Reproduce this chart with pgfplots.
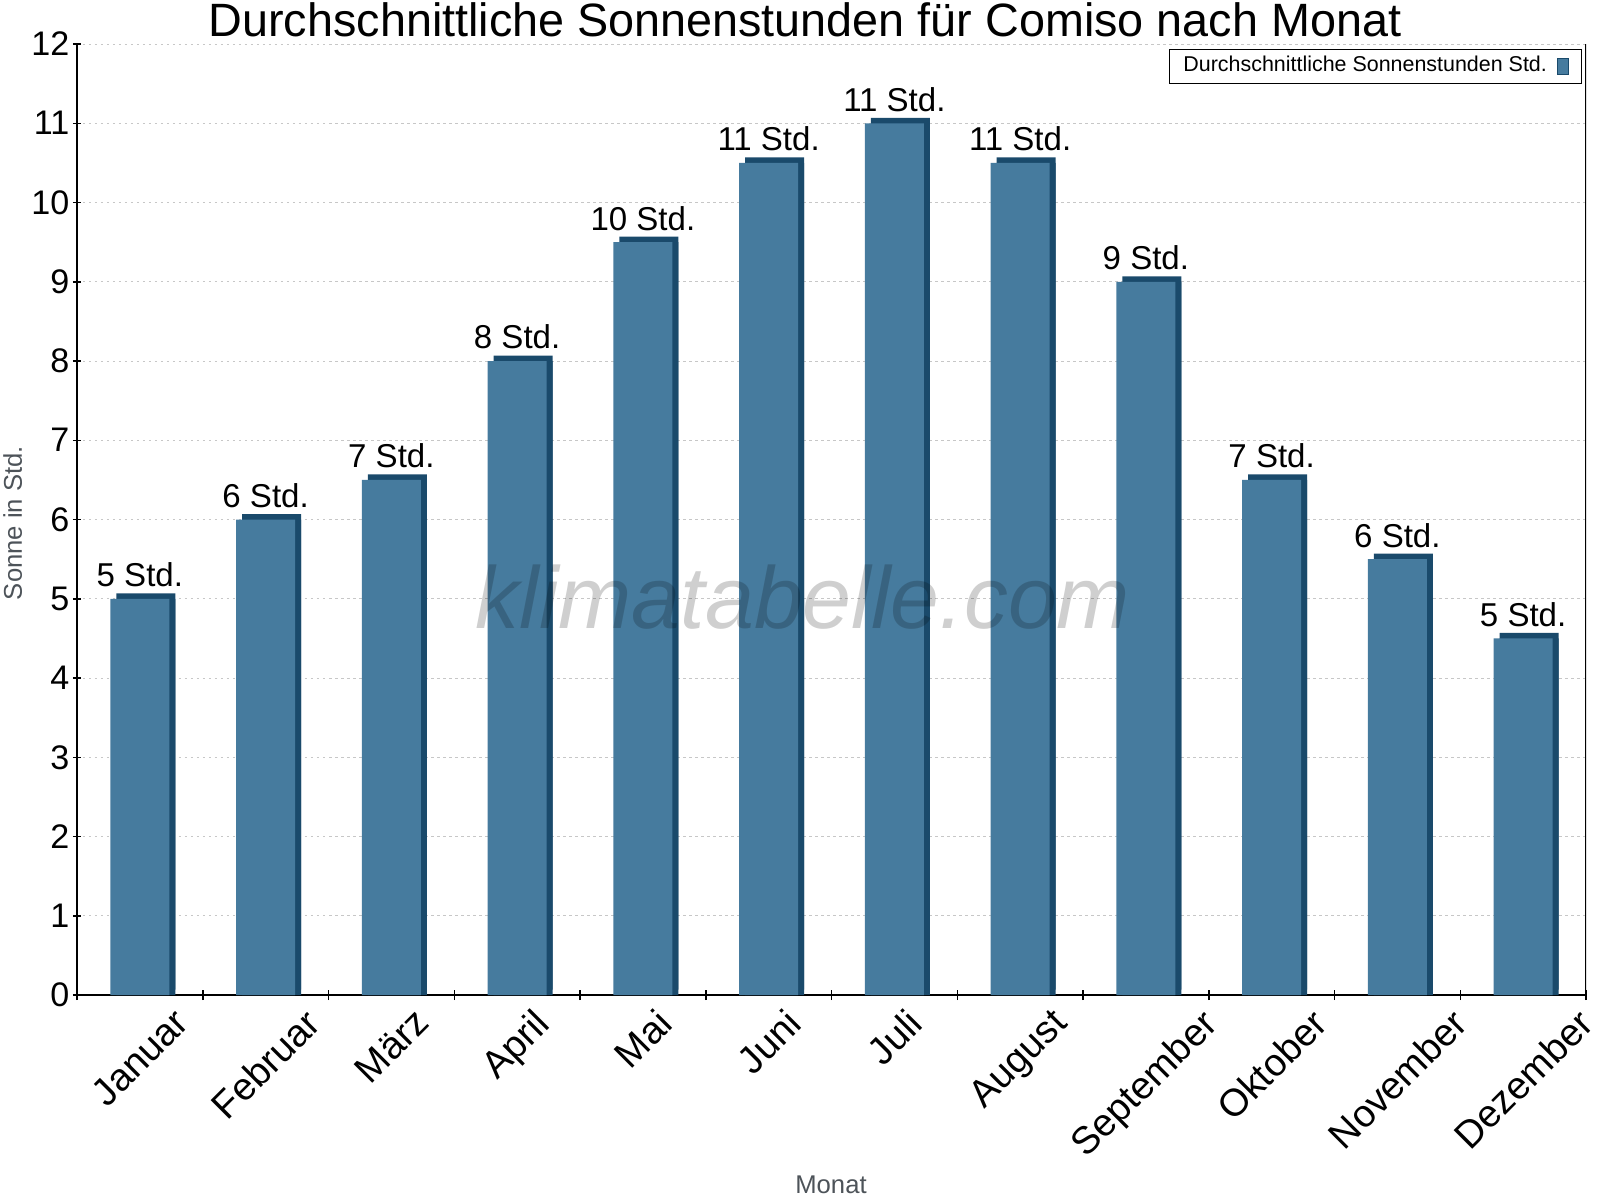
\documentclass[border=0pt]{standalone}
\usepackage{fontspec}
\setmainfont{Liberation Sans}
\usepackage{graphicx}
\usepackage{pgfplots}
\pgfplotsset{compat=1.18}
\definecolor{barblue}{RGB}{70,123,158}
\definecolor{bardark}{RGB}{26,74,107}
\definecolor{labgray}{RGB}{77,83,89}

\begin{document}
\begin{tikzpicture}
\useasboundingbox (0,0) rectangle (160mm,120mm);
\begin{axis}[
    at={(7.7mm,20.5mm)}, anchor=south west,
    scale only axis,
    width=150.9mm, height=95.1mm,
    xmin=-0.5, xmax=11.5,
    ymin=0, ymax=12,
    ybar,
    bar width=5.9mm,
    axis x line*=bottom, axis y line*=left,
    axis line style={-, line width=0.18mm},
    xtick={0,...,11},
    xticklabels={\rotatebox{45}{Januar},\rotatebox{45}{Februar},\rotatebox{45}{März},
        \rotatebox{45}{April},\rotatebox{45}{Mai},\rotatebox{45}{Juni},\rotatebox{45}{Juli},
        \rotatebox{45}{August},\rotatebox{45}{September},\rotatebox{45}{Oktober},
        \rotatebox{45}{November},\rotatebox{45}{Dezember}},
    minor xtick={-0.5,0.5,...,11.5},
    major x tick style={draw=none},
    ytick={0,...,12},
    tick align=center,
    major tick length=0.8mm,
    minor tick length=1mm,
    tick style={line width=0.15mm, black},
    /pgf/number format/assume math mode=true,
    xticklabel style={anchor=north, inner sep=0pt, yshift=-0.7mm,
        font=\fontsize{10.9pt}{12pt}\selectfont},
    yticklabel style={anchor=east, inner sep=0pt, xshift=-0.3mm,
        font=\fontsize{9.7pt}{12pt}\selectfont},
    ymajorgrids,
    major grid style={draw=black!22, line width=0.1mm, dash pattern=on 0.25mm off 0.35mm},
    legend plot pos=right,
    legend style={at={(rel axis cs:1,1)}, anchor=north east, xshift=-0.4mm, yshift=-0.5mm,
        draw=black, line width=0.12mm, inner xsep=0.9mm, inner ysep=0.15mm,
        nodes={inner sep=0.5mm},
        font=\fontsize{6.1pt}{7pt}\selectfont},
    legend image code/.code={
        \path (0mm,0mm);
        \draw[fill=barblue, draw=bardark, line width=0.1mm] (0.55mm,-0.8mm) rectangle (1.65mm,0.8mm);
        \path (2.05mm,0mm);},
]

% seitliche/obere Schattenkante
\addplot[fill=bardark, draw=none, bar shift=0.6mm, yshift=0.55mm, forget plot] coordinates {
    (0,5.0) (1,6.0) (2,6.5) (3,8.0) (4,9.5) (5,10.5)
    (6,11.0) (7,10.5) (8,9.0) (9,6.5) (10,5.5) (11,4.5)
};
\addplot[fill=bardark, draw=none, bar shift=0.6mm, forget plot] coordinates {
    (0,5.0) (1,6.0) (2,6.5) (3,8.0) (4,9.5) (5,10.5)
    (6,11.0) (7,10.5) (8,9.0) (9,6.5) (10,5.5) (11,4.5)
};

\addplot[fill=barblue, draw=none, bar shift=0pt,
    nodes near coords, point meta=explicit symbolic,
    every node near coord/.append style={anchor=south, inner sep=0pt, yshift=1.1mm,
        black, font=\fontsize{9.4pt}{11pt}\selectfont}]
coordinates {
    (0,5.0)  [5 Std.]
    (1,6.0)  [6 Std.]
    (2,6.5)  [7 Std.]
    (3,8.0)  [8 Std.]
    (4,9.5)  [10 Std.]
    (5,10.5) [11 Std.]
    (6,11.0) [11 Std.]
    (7,10.5) [11 Std.]
    (8,9.0)  [9 Std.]
    (9,6.5)  [7 Std.]
    (10,5.5) [6 Std.]
    (11,4.5) [5 Std.]
};
\addlegendentry{Durchschnittliche Sonnenstunden Std.}

\draw[line width=0.18mm] (rel axis cs:1,0) -- (rel axis cs:1,1);
\end{axis}

% Wasserzeichen
\node[anchor=base, inner sep=0pt, text=black, text opacity=0.19,
    font=\fontsize{25pt}{30pt}\selectfont\itshape] at (80.3mm,57.2mm) {klimatabelle.com};

% Titel und Achsentitel
\node[anchor=base, inner sep=0pt, font=\fontsize{13.3pt}{15pt}\selectfont]
    at (80.5mm,116.3mm) {Durchschnittliche Sonnenstunden für Comiso nach Monat};
\node[anchor=base, inner sep=0pt, rotate=90, text=labgray, font=\fontsize{7.3pt}{9pt}\selectfont]
    at (2.2mm,67.7mm) {Sonne in Std.};
\node[anchor=base, inner sep=0pt, text=labgray, font=\fontsize{7.3pt}{9pt}\selectfont]
    at (83.1mm,0.7mm) {Monat};
\end{tikzpicture}
\end{document}
